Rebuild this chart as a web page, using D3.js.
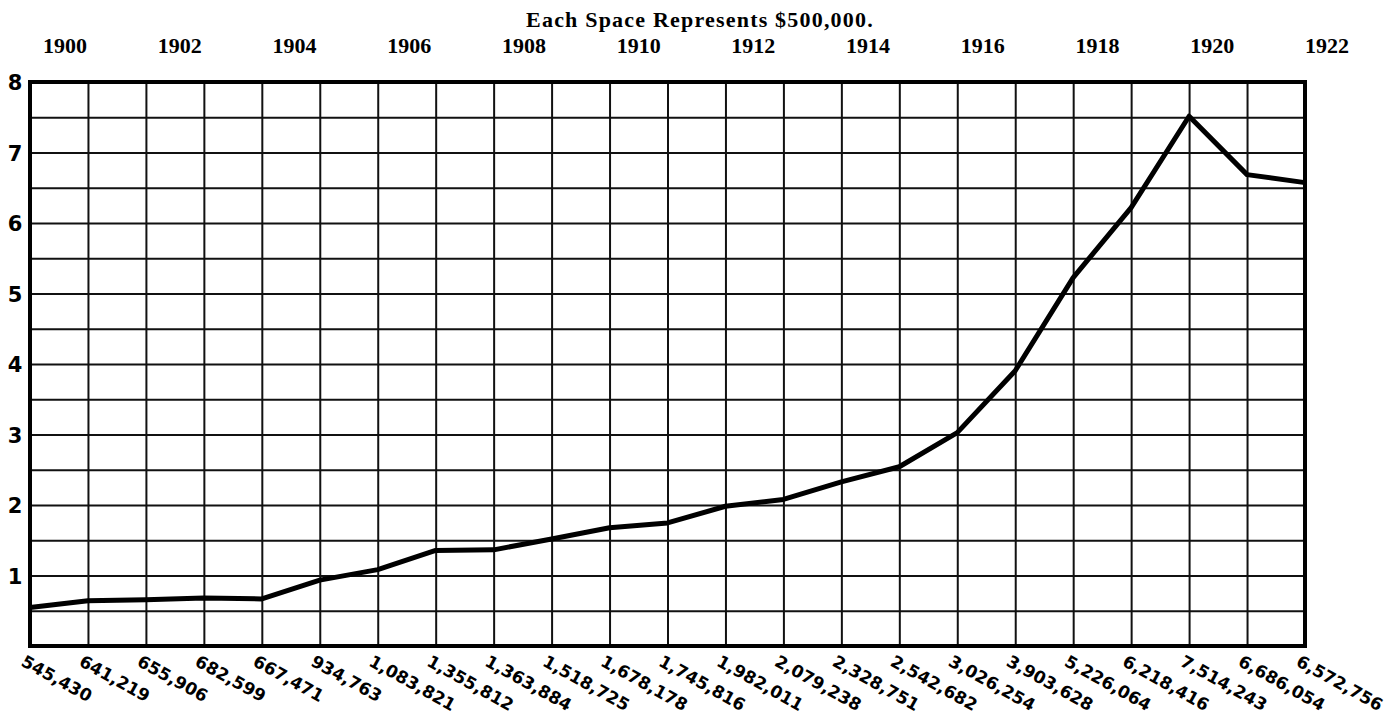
<!DOCTYPE html>
<html>
<head>
<meta charset="utf-8">
<script src="https://cdn.jsdelivr.net/npm/d3@7"></script>
<style>
    body { margin: 0; background: #fff; }
    svg { display: block; }
    .grid line { stroke: #111; stroke-width: 2; }
    .grid path { display: none; }
</style>
</head>
<body>
<svg id="chart" width="1392" height="724"></svg>
<script>
'use strict';

// years of the series (one grid column each)
var years = [1900, 1901, 1902, 1903, 1904, 1905, 1906, 1907, 1908, 1909, 1910, 1911,
             1912, 1913, 1914, 1915, 1916, 1917, 1918, 1919, 1920, 1921, 1922];
// dollar values written under each year
var amounts = [545430, 641219, 655906, 682599, 667471, 934763, 1083821, 1355812,
               1363884, 1518725, 1678178, 1745816, 1982011, 2079238, 2328751, 2542682,
               3026254, 3903628, 5226064, 6218416, 7514243, 6686054, 6572756];
// labels along the top and the left
var yearLabels = [1900, 1902, 1904, 1906, 1908, 1910, 1912, 1914, 1916, 1918, 1920, 1922];
var millionLabels = [1, 2, 3, 4, 5, 6, 7, 8];
var title = "Each Space Represents $500,000.";

var plotL = 30, plotR = 1305, plotT = 82, plotB = 646;
var svg = d3.select("#chart");

var x = d3.scaleLinear().domain([years[0], years[years.length - 1]]).range([plotL, plotR]);
var y = d3.scaleLinear().domain([0, 8000000]).range([plotB, plotT]);
// the printed year labels sit a little right of their grid lines
var xYear = d3.scaleLinear().domain([1900, 1922]).range([65, 1327]);

// grid: one column per year, one row per $500,000
svg.append("g")
    .attr("class", "grid")
    .attr("transform", "translate(0," + plotB + ")")
    .call(d3.axisBottom(x).tickValues(years).tickSize(-(plotB - plotT)).tickFormat(""));

svg.append("g")
    .attr("class", "grid")
    .attr("transform", "translate(" + plotL + ",0)")
    .call(d3.axisLeft(y).tickValues(d3.range(0, 8000001, 500000)).tickSize(-(plotR - plotL)).tickFormat(""));

// frame
svg.append("rect")
    .attr("x", plotL).attr("y", plotT)
    .attr("width", plotR - plotL).attr("height", plotB - plotT)
    .attr("fill", "none").attr("stroke", "#000").attr("stroke-width", 4);

// title and years on top
svg.append("text")
    .attr("x", 700).attr("y", 27)
    .attr("text-anchor", "middle")
    .style("font-family", "'Liberation Serif', serif")
    .style("font-weight", "bold")
    .style("font-size", "22px")
    .style("letter-spacing", "1.2px")
    .text(title);

svg.selectAll(".year")
    .data(yearLabels)
    .enter().append("text")
    .attr("class", "year")
    .attr("x", function (d) { return xYear(d); })
    .attr("y", 53)
    .attr("text-anchor", "middle")
    .style("font-family", "'Liberation Serif', serif")
    .style("font-weight", "bold")
    .style("font-size", "22px")
    .text(function (d) { return d; });

// millions on the left
svg.selectAll(".mil")
    .data(millionLabels)
    .enter().append("text")
    .attr("class", "mil")
    .attr("x", 15)
    .attr("y", function (d) { return y(d * 1000000) + 8; })
    .attr("text-anchor", "middle")
    .style("font-family", "'DejaVu Sans', sans-serif")
    .style("font-weight", "bold")
    .style("font-size", "21px")
    .text(function (d) { return d; });

// the line
var line = d3.line()
    .x(function (d, i) { return x(years[i]); })
    .y(function (d) { return y(d); });

svg.append("path")
    .datum(amounts)
    .attr("d", line)
    .attr("fill", "none")
    .attr("stroke", "#000")
    .attr("stroke-width", 5)
    .attr("stroke-linejoin", "round");

// slanted amounts under the grid
var fmt = d3.format(",");
svg.selectAll(".amt")
    .data(amounts)
    .enter().append("text")
    .attr("class", "amt")
    .attr("transform", function (d, i) {
        return "translate(" + (x(years[i]) - 10) + "," + (plotB + 19) + ") rotate(29)";
    })
    .style("font-family", "'DejaVu Sans', sans-serif")
    .style("font-weight", "bold")
    .style("font-size", "17px")
    .text(function (d) { return fmt(d); });
</script>
</body>
</html>
